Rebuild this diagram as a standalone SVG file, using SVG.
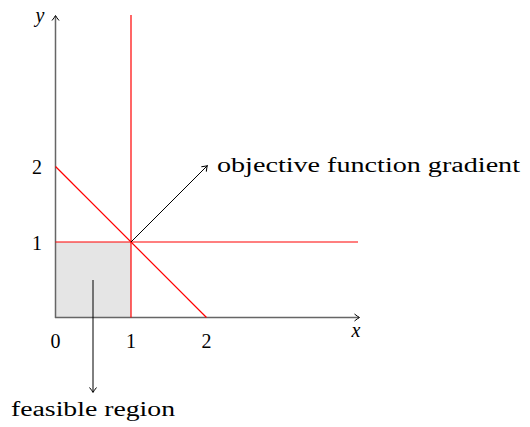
<svg xmlns="http://www.w3.org/2000/svg" width="530" height="427" viewBox="0 0 530 427">
<style>
.t{font-family:"Liberation Serif","DejaVu Serif",serif;font-size:20px;fill:#000}
.i{font-style:italic}
.axis{stroke:#666;stroke-width:1.5;fill:none}
.red{stroke:#f00;stroke-width:1.2;fill:none}
.blk{stroke:#000;stroke-width:1;fill:none}
</style>
<defs>
<marker id="ah" viewBox="-6 -5 8 10" markerWidth="8" markerHeight="10" refX="0" refY="0" orient="auto" markerUnits="userSpaceOnUse">
<path d="M-4.5,-3.5 Q-1.5,-1 0.5,0 Q-1.5,1 -4.5,3.5" fill="none" stroke="#000" stroke-width="1"/>
</marker>
</defs>
<rect id="feasible" x="55.5" y="242" width="75.5" height="75.5" fill="#e5e5e5"/>
<g id="connectors">
<line class="axis" x1="55.5" y1="318" x2="55.5" y2="16" marker-end="url(#ah)"/>
<line class="axis" x1="55" y1="317.5" x2="359" y2="317.5" marker-end="url(#ah)"/>
<line class="red" x1="131" y1="317.5" x2="131" y2="15"/>
<line class="red" x1="55.5" y1="242" x2="358" y2="242"/>
<line class="red" x1="55.5" y1="166.5" x2="206.5" y2="317.5"/>
<line class="blk" x1="131" y1="242" x2="207" y2="166" marker-end="url(#ah)"/>
<line class="blk" x1="93" y1="280" x2="93" y2="392" marker-end="url(#ah)"/>
</g>
<g id="labels">
<text class="t i" x="40" y="22" text-anchor="middle">y</text>
<text class="t i" x="356" y="337" text-anchor="middle">x</text>
<text class="t" x="55.5" y="348" text-anchor="middle">0</text>
<text class="t" x="131" y="348" text-anchor="middle">1</text>
<text class="t" x="206.5" y="348" text-anchor="middle">2</text>
<text class="t" x="37" y="174" text-anchor="middle">2</text>
<text class="t" x="37" y="250" text-anchor="middle">1</text>
<text class="t" x="217" y="172" textLength="303" lengthAdjust="spacingAndGlyphs">objective function gradient</text>
<text class="t" x="11" y="416" textLength="164" lengthAdjust="spacingAndGlyphs">feasible region</text>
</g>
</svg>
